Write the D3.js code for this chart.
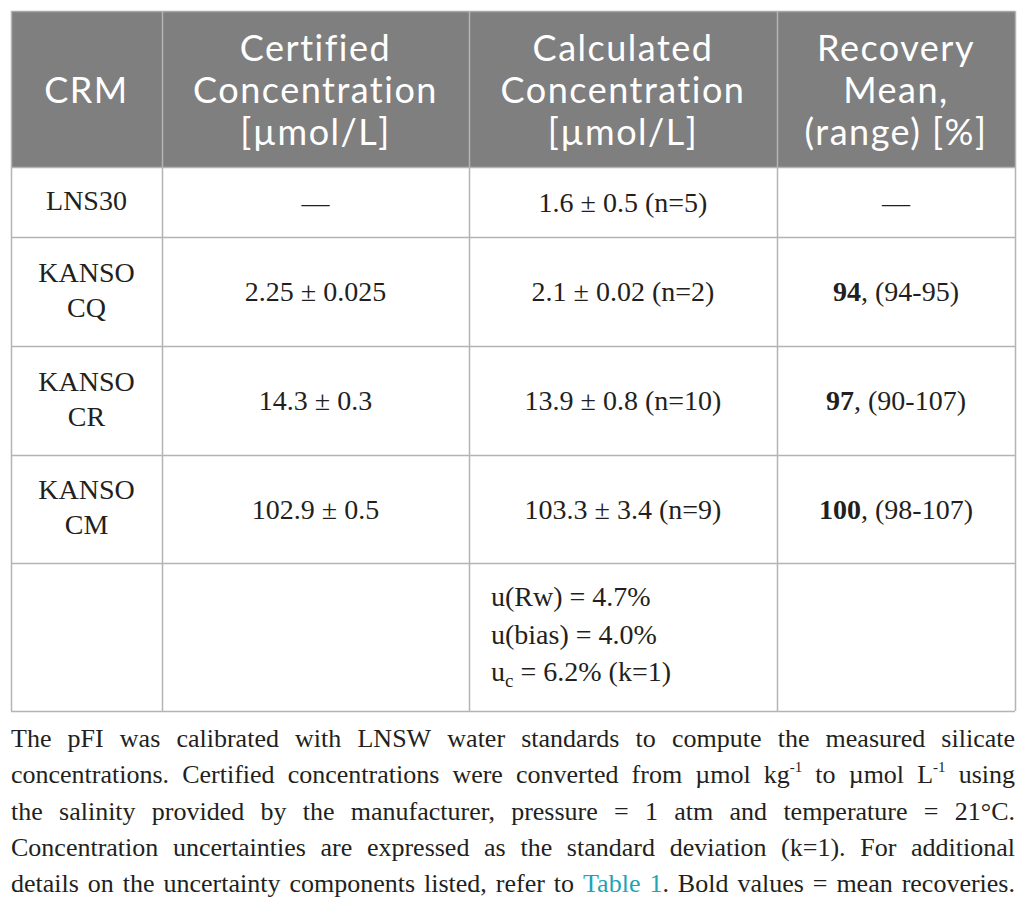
<!DOCTYPE html>
<html>
<head>
<meta charset="utf-8">
<script src="https://cdn.jsdelivr.net/npm/d3@7"></script>
<style>
  body { margin: 0; background: #fff; }
  svg { display: block; }
  .head { font-family: "Lato", "Noto Sans", sans-serif; }
  .serif { font-family: "Liberation Serif", "Times New Roman", serif; }
</style>
</head>
<body>
<svg id="table"></svg>
<script>
// table content
const headers = [
  ["CRM"],
  ["Certified", "Concentration", "[µmol/L]"],
  ["Calculated", "Concentration", "[µmol/L]"],
  ["Recovery", "Mean,", "(range) [%]"]
]
const crms = [["LNS30"], ["KANSO", "CQ"], ["KANSO", "CR"], ["KANSO", "CM"]]
const certified = ["—", "2.25 ± 0.025", "14.3 ± 0.3", "102.9 ± 0.5"]
const calculated = ["1.6 ± 0.5 (n=5)", "2.1 ± 0.02 (n=2)", "13.9 ± 0.8 (n=10)", "103.3 ± 3.4 (n=9)"]
const recoveryMean = [null, "94", "97", "100"]
const recoveryRange = [null, "94-95", "90-107", "98-107"]
const uncertainty = [
  {main: "u(Rw) = 4.7%", sub: null, rest: ""},
  {main: "u(bias) = 4.0%", sub: null, rest: ""},
  {main: "u", sub: "c", rest: " = 6.2% (k=1)"}
]
const caption = [
  [{t: "The pFI was calibrated with LNSW water standards to compute the measured silicate"}],
  [{t: "concentrations. Certified concentrations were converted from µmol kg"}, {t: "-1", sup: true}, {t: " to µmol L"}, {t: "-1", sup: true}, {t: " using"}],
  [{t: "the salinity provided by the manufacturer, pressure = 1 atm and temperature = 21°C."}],
  [{t: "Concentration uncertainties are expressed as the standard deviation (k=1). For additional"}],
  [{t: "details on the uncertainty components listed, refer to "}, {t: "Table 1", link: true}, {t: ". Bold values = mean recoveries."}]
]

let width = 1026
let height = 906

let colEdges = [11, 162, 469, 777, 1015]
let rowEdges = [11, 167, 237, 346, 455, 563, 711]

let lineColor = "#b4b4b4"
let ink = "#231f20"
let bodySize = 28

let svg = d3.select('#table')
            .attr('width', width)
            .attr('height', height)

let colCenter = (i) => (colEdges[i] + colEdges[i + 1]) / 2
let rowCenter = (i) => (rowEdges[i] + rowEdges[i + 1]) / 2

// header background
svg.append('rect')
   .attr('x', colEdges[0])
   .attr('y', rowEdges[0])
   .attr('width', colEdges[4] - colEdges[0])
   .attr('height', rowEdges[1] - rowEdges[0])
   .attr('fill', '#7f7f7f')

// grid lines
svg.selectAll('line.h')
   .data(rowEdges)
   .enter()
   .append('line')
   .attr('class', 'h')
   .attr('x1', colEdges[0])
   .attr('x2', colEdges[4])
   .attr('y1', d => d + 0.5)
   .attr('y2', d => d + 0.5)
   .attr('stroke', (d, i) => i == 0 ? '#a8a8a8' : lineColor)
   .attr('stroke-width', 1.5)

svg.selectAll('line.v')
   .data(colEdges)
   .enter()
   .append('line')
   .attr('class', 'v')
   .attr('x1', d => d + 0.5)
   .attr('x2', d => d + 0.5)
   .attr('y1', rowEdges[0])
   .attr('y2', rowEdges[rowEdges.length - 1])
   .attr('stroke', lineColor)
   .attr('stroke-width', 1.5)

// multi line centred text
let centredLines = (g, lines, cx, cy, gap, size, cls, fill, spacing) => {
  let n = lines.length
  lines.forEach((ln, k) => {
    g.append('text')
     .attr('class', cls)
     .attr('x', cx)
     .attr('y', cy + (k - (n - 1) / 2) * gap)
     .attr('dy', '0.35em')
     .attr('text-anchor', 'middle')
     .style('font-size', size + 'px')
     .style('letter-spacing', (spacing || 0) + 'px')
     .attr('fill', fill)
     .text(ln)
  })
}

let head = svg.append('g')
headers.forEach((h, i) => {
  centredLines(head, h, colCenter(i), rowCenter(0) + 1, 42, 36, 'head', '#ffffff', 1.5)
})

let body = svg.append('g')
crms.forEach((c, r) => {
  let cy = rowCenter(r + 1)
  centredLines(body, c, colCenter(0), cy - 2, 35, bodySize, 'serif', ink)
  centredLines(body, [certified[r]], colCenter(1), cy, 35, bodySize, 'serif', ink)
  centredLines(body, [calculated[r]], colCenter(2), cy, 35, bodySize, 'serif', ink)

  let t = body.append('text')
              .attr('class', 'serif')
              .attr('x', colCenter(3))
              .attr('y', cy)
              .attr('dy', '0.35em')
              .attr('text-anchor', 'middle')
              .style('font-size', bodySize + 'px')
              .attr('fill', ink)
  if (recoveryMean[r] == null) {
    t.text("—")
  } else {
    t.append('tspan').attr('font-weight', 'bold').text(recoveryMean[r])
    t.append('tspan').text(", (" + recoveryRange[r] + ")")
  }
})

// uncertainty budget in last row
uncertainty.forEach((u, k) => {
  let t = body.append('text')
              .attr('class', 'serif')
              .attr('x', colEdges[2] + 22)
              .attr('y', rowCenter(5) - 3 + (k - 1) * 37.5)
              .attr('dy', '0.35em')
              .style('font-size', bodySize + 'px')
              .attr('fill', ink)
  t.append('tspan').text(u.main)
  if (u.sub) {
    t.append('tspan').style('font-size', '19px').attr('dy', 6).text(u.sub)
    t.append('tspan').attr('dy', -6).text(u.rest)
  }
})

// footnote, fully justified: split into words and spread them over the width
let capWidth = colEdges[4] - colEdges[0]
let cap = svg.append('g')

let toWords = (parts) => {
  let words = [[]]
  parts.forEach(p => {
    p.t.split(' ').forEach((piece, j) => {
      if (j > 0) words.push([])
      if (piece != '') words[words.length - 1].push({t: piece, sup: p.sup, link: p.link})
    })
  })
  return words.filter(w => w.length > 0)
}

caption.forEach((parts, k) => {
  let y = 747 + k * 36.3
  let words = toWords(parts)
  let nodes = words.map(w => {
    let t = cap.append('text')
               .attr('class', 'serif')
               .attr('y', y)
               .style('font-size', '26px')
               .attr('fill', ink)
    let up = false
    w.forEach(seg => {
      let s = t.append('tspan').text(seg.t)
      if (seg.sup) {
        s.style('font-size', '15px').attr('dy', -11)
        up = true
      } else if (up) {
        s.attr('dy', 11)
        up = false
      }
      if (seg.link) s.attr('fill', '#1fa3b5')
    })
    return t
  })
  let widths = nodes.map(t => t.node().getComputedTextLength())
  let gap = Math.max(3, (capWidth - d3.sum(widths)) / (nodes.length - 1))
  let x = colEdges[0]
  nodes.forEach((t, i) => {
    t.attr('x', x)
    x += widths[i] + gap
  })
})
</script>
</body>
</html>
